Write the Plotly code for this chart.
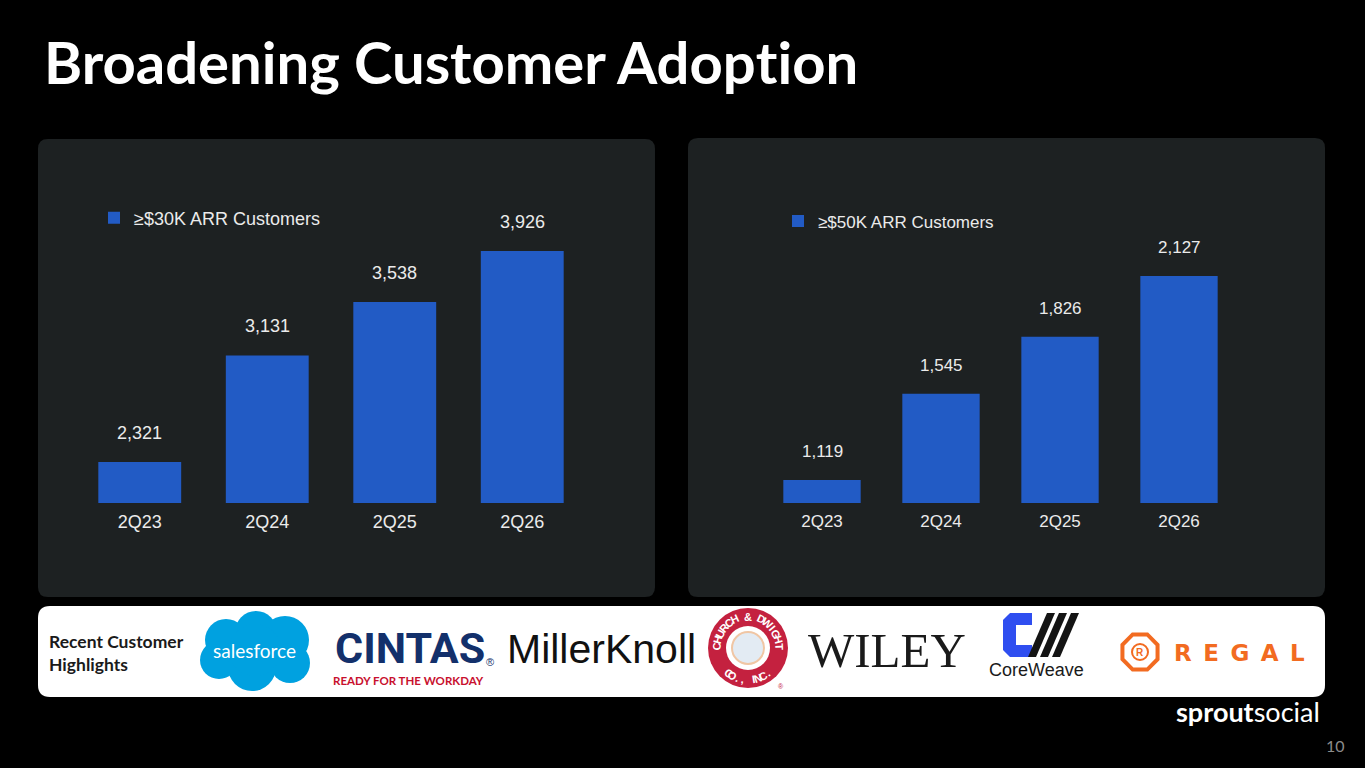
import math
import plotly.graph_objects as go

W, H = 1365, 768

# data
quarters = ["2Q23", "2Q24", "2Q25", "2Q26"]
arr30k = [2321, 3131, 3538, 3926]
arr50k = [1119, 1545, 1826, 2127]
label30k = "≥$30K ARR Customers"
label50k = "≥$50K ARR Customers"

BAR = "#225bc5"
PANEL = "#1d2122"
TXT = "#ebebeb"
ARIAL = "Liberation Sans, Arial, sans-serif"


def px(x):
    return x / W


def py(y):
    return 1 - y / H


def rrect(x0, y0, x1, y1, r):
    pts = [
        ("M", x0 + r, y0), ("L", x1 - r, y0), ("Q", x1, y0, x1, y0 + r),
        ("L", x1, y1 - r), ("Q", x1, y1, x1 - r, y1), ("L", x0 + r, y1),
        ("Q", x0, y1, x0, y1 - r), ("L", x0, y0 + r), ("Q", x0, y0, x0 + r, y0),
    ]
    out = ""
    for p in pts:
        cmd, coords = p[0], p[1:]
        xy = []
        for i in range(0, len(coords), 2):
            xy.append(f"{px(coords[i]):.5f},{py(coords[i + 1]):.5f}")
        out += cmd + " " + " ".join(xy) + " "
    return out + "Z"


def poly(points):
    s = "M " + " L ".join(f"{px(a):.5f},{py(b):.5f}" for a, b in points)
    return s + " Z"


def circ(cx, cy, r, fill, line=None, lw=0):
    return dict(type="circle", xref="paper", yref="paper",
                x0=px(cx - r), x1=px(cx + r), y0=py(cy + r), y1=py(cy - r),
                fillcolor=fill, line=dict(color=line or fill, width=lw), layer="above")


def label(x, y, text, font, xanchor="center", yanchor="middle", **kw):
    # paper-positioned text given in pixel coords
    return dict(x=px(x), y=py(y), xref="paper", yref="paper", text=text, showarrow=False,
                xanchor=xanchor, yanchor=yanchor, font=font, **kw)


fig = go.Figure()
fig.add_trace(go.Bar(x=quarters, y=arr30k, name=label30k, marker=dict(color=BAR, line=dict(width=0)),
                     xaxis="x", yaxis="y", legend="legend", hoverinfo="x+y"))
fig.add_trace(go.Bar(x=quarters, y=arr50k, name=label50k, marker=dict(color=BAR, line=dict(width=0)),
                     xaxis="x2", yaxis="y2", legend="legend2", hoverinfo="x+y"))

ann = []
# value labels above bars
for q, v in zip(quarters, arr30k):
    ann.append(dict(x=q, y=v, xref="x", yref="y", text=f"{v:,}", showarrow=False,
                    xanchor="center", yanchor="middle", yshift=29,
                    font=dict(family=ARIAL, size=18, color=TXT)))
for q, v in zip(quarters, arr50k):
    ann.append(dict(x=q, y=v, xref="x2", yref="y2", text=f"{v:,}", showarrow=False,
                    xanchor="center", yanchor="middle", yshift=28,
                    font=dict(family=ARIAL, size=17, color=TXT)))

# title (the odd-sized "t" keeps Lato from using its "ti" ligature)
ann.append(label(42, 62, "<b>Broadening Customer Adop<span style='font-size:58.2px'>t</span>ion</b>",
                 dict(family="Lato, Inter, sans-serif", size=58, color="#ffffff"), xanchor="left"))

# customer strip
ann.append(label(47, 653, "<b>Recent Customer<br>Highlights</b>",
                 dict(family="Lato, sans-serif", size=17.5, color="#1a1a1a"), xanchor="left", align="left"))

shapes = [
    dict(type="path", path=rrect(38, 139, 655, 597, 10), xref="paper", yref="paper",
         fillcolor=PANEL, line=dict(width=0), layer="below"),
    dict(type="path", path=rrect(688, 138, 1325, 597, 10), xref="paper", yref="paper",
         fillcolor=PANEL, line=dict(width=0), layer="below"),
    dict(type="path", path=rrect(38, 606, 1325, 697, 12), xref="paper", yref="paper",
         fillcolor="#ffffff", line=dict(width=0), layer="below"),
]

# salesforce cloud
SF = "#00a1e0"
for cx, cy, r in [(226, 640, 21), (256, 632, 21), (285, 640, 24), (219, 660, 19),
                  (252, 667, 24), (290, 663, 20), (255, 650, 26)]:
    shapes.append(circ(cx, cy, r, SF))
ann.append(label(254, 650, "salesforce", dict(family="Lato, sans-serif", size=19, color="#ffffff")))

# cintas
ann.append(label(333, 648, "<b>CINTAS</b>",
                 dict(family="Roboto, sans-serif", size=43, weight=900, color="#13306b"), xanchor="left"))
ann.append(label(484, 662, "®", dict(family=ARIAL, size=11, color="#13306b"), xanchor="left"))
ann.append(label(408, 680, "<b>READY FOR THE WORKDAY</b>",
                 dict(family="Lato, sans-serif", size=11.5, color="#c8102e")))

# millerknoll
ann.append(label(505, 649, "MillerKnoll", dict(family=ARIAL, size=41, color="#111111"), xanchor="left"))

# church & dwight seal
CD = "#c4213f"
shapes.append(circ(748, 648, 40, CD))
shapes.append(circ(748, 648, 22, "#ffffff", "#ffffff", 0))
shapes.append(circ(748, 648, 16, "#e3ebf3", "#f0c6a4", 2))
top = "CHURCH & DWIGHT"
for i, ch in enumerate(top):
    a = math.radians(178 - i * (176 / (len(top) - 1)))
    ann.append(label(748 + 31.5 * math.cos(a), 648 - 31.5 * math.sin(a), f"<b>{ch}</b>",
                     dict(family=ARIAL, size=11, color="#ffffff"), textangle=90 - math.degrees(a)))
bottom = "CO., INC."
for i, ch in enumerate(bottom):
    a = math.radians(232 + i * (76 / (len(bottom) - 1)))
    ann.append(label(748 + 31.5 * math.cos(a), 648 - 31.5 * math.sin(a), f"<b>{ch}</b>",
                     dict(family=ARIAL, size=11, color="#ffffff"), textangle=270 - math.degrees(a)))
ann.append(label(781, 686, "®", dict(family=ARIAL, size=7, color=CD)))

# wiley
ann.append(label(806, 650, "WILEY", dict(family="Liberation Serif, DejaVu Serif, serif", size=49,
                                          color="#1a1a1a"), xanchor="left"))

# coreweave
shapes.append(dict(type="path", xref="paper", yref="paper", layer="above", line=dict(width=0),
                   fillcolor="#2f4ef0",
                   path=poly([(1010, 613), (1032, 613), (1032, 625), (1016, 625), (1016, 645),
                              (1032, 645), (1032, 657), (1010, 657), (1003, 650), (1003, 620)])))
for d in (0, 12, 24):
    shapes.append(dict(type="path", xref="paper", yref="paper", layer="above", line=dict(width=0),
                       fillcolor="#141414",
                       path=poly([(1028 + d, 657), (1036 + d, 657), (1055 + d, 613), (1047 + d, 613)])))
ann.append(label(1036, 670, "CoreWeave", dict(family=ARIAL, size=18, color="#1a1a1a")))

# regal
RG = "#f26b21"
octo = [(1140 + 19 * math.cos(math.radians(22.5 + 45 * k)), 652 + 19 * math.sin(math.radians(22.5 + 45 * k)))
        for k in range(8)]
shapes.append(dict(type="path", xref="paper", yref="paper", layer="above", fillcolor="rgba(0,0,0,0)",
                   line=dict(color=RG, width=4), path=poly(octo)))
shapes.append(circ(1140, 652, 8, "rgba(0,0,0,0)", RG, 2))
ann.append(label(1140, 652, "<b>R</b>", dict(family=ARIAL, size=10, color=RG)))
ann.append(label(1172, 653, "<b>R\u2002E\u2002G\u2002A\u2002L</b>",
                 dict(family="DejaVu Sans, sans-serif", size=23, color=RG), xanchor="left"))

# footer
ann.append(label(1322, 711, "<b>sprout</b>social", dict(family="Lato, sans-serif", size=27, color="#ffffff"),
                 xanchor="right"))
ann.append(label(1347, 745, "10", dict(family="Lato, sans-serif", size=16, color="#8c8c8c"), xanchor="right"))

axis_x = dict(showgrid=False, zeroline=False, showline=False, ticks="", fixedrange=True,
              tickfont=dict(family=ARIAL, size=18, color=TXT), ticklabelstandoff=6)
axis_y = dict(visible=False, fixedrange=True)

fig.update_layout(
    width=W, height=H, autosize=False,
    margin=dict(l=0, r=0, t=0, b=0),
    paper_bgcolor="#000000", plot_bgcolor="rgba(0,0,0,0)",
    bargap=0.35, showlegend=True,
    xaxis=dict(axis_x, domain=[px(76), px(586)], anchor="y"),
    yaxis=dict(axis_y, domain=[py(503), py(200)], range=[2009, 4313], anchor="x"),
    xaxis2=dict(axis_x, domain=[px(762.5), px(1238.5)], anchor="y2",
                tickfont=dict(family=ARIAL, size=17, color=TXT)),
    yaxis2=dict(axis_y, domain=[py(503), py(200)], range=[1005, 2502], anchor="x2"),
    legend=dict(x=px(94), y=py(218), xanchor="left", yanchor="middle", bgcolor="rgba(0,0,0,0)",
                font=dict(family=ARIAL, size=18, color=TXT)),
    legend2=dict(x=px(778), y=py(221.5), xanchor="left", yanchor="middle", bgcolor="rgba(0,0,0,0)",
                 font=dict(family=ARIAL, size=17, color=TXT)),
    shapes=shapes, annotations=ann,
)

fig.write_html("out.html", config={"displayModeBar": False},
               post_script="document.body.style.margin='0';document.body.style.background='#000';")
